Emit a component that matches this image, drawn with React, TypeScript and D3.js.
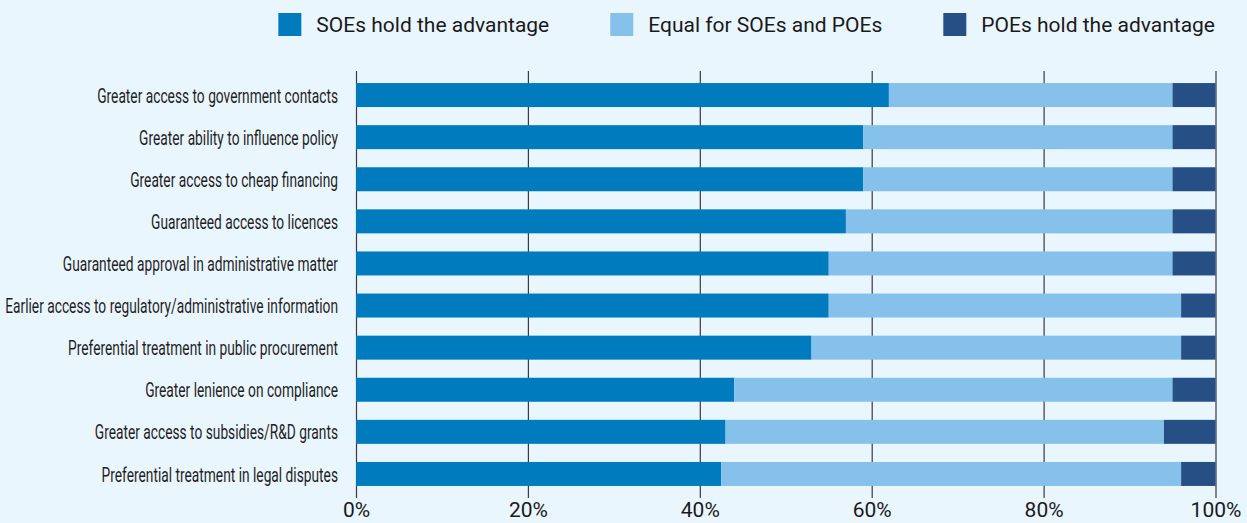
import React, { useEffect, useRef } from 'react';
import * as d3 from 'd3';

const categories = [
    'Greater access to government contacts',
    'Greater ability to influence policy',
    'Greater access to cheap financing',
    'Guaranteed access to licences',
    'Guaranteed approval in administrative matter',
    'Earlier access to regulatory/administrative information',
    'Preferential treatment in public procurement',
    'Greater lenience on compliance',
    'Greater access to subsidies/R&D grants',
    'Preferential treatment in legal disputes',
];
const soeAdvantage = [62, 59, 59, 57, 55, 55, 53, 44, 43, 42.5];
const equalForBoth = [33, 36, 36, 38, 40, 41, 43, 51, 51, 53.5];
const poeAdvantage = [5, 5, 5, 5, 5, 4, 4, 5, 6, 4];

const seriesKeys = ['soe', 'equal', 'poe'];
const seriesNames = ['SOEs hold the advantage', 'Equal for SOEs and POEs', 'POEs hold the advantage'];
const seriesColors = ['#007bbe', '#86c1eb', '#264f86'];
const xTicks = [0, 20, 40, 60, 80, 100];

const W = 1247;
const H = 523;
const margin = { top: 71, right: 31, bottom: 25, left: 356 };
const font = 'Roboto, "Noto Sans", sans-serif';
const labelSquash = 0.655;

export default function App() {
    const ref = useRef<SVGSVGElement>(null);

    useEffect(() => {
        const svg = d3.select(ref.current);
        svg.selectAll('*').remove();

        const rows = categories.map((c, i) => ({
            name: c, soe: soeAdvantage[i], equal: equalForBoth[i], poe: poeAdvantage[i],
        }));

        const x = d3.scaleLinear().domain([0, 100]).range([margin.left, W - margin.right - 0.5]);
        const y = d3.scaleBand().domain(categories).range([74, 495]).paddingInner(0.43).paddingOuter(0.215);
        const axisY = H - margin.bottom;

        // gridlines + ticks
        const axis = d3.axisBottom(x)
            .tickValues(xTicks)
            .tickSize(-(axisY - margin.top))
            .tickPadding(4)
            .tickFormat(d => d + '%');

        const gx = svg.append('g')
            .attr('transform', `translate(0, ${axisY})`)
            .call(axis);
        gx.select('.domain').remove();
        gx.selectAll('line').attr('stroke', '#3a3a3a').attr('stroke-width', 1.2);
        gx.selectAll('text')
            .attr('fill', '#1a1a1a')
            .style('font-family', font)
            .style('font-size', '21px');

        // stacked bars
        const stacked = d3.stack<any>().keys(seriesKeys)(rows);
        svg.append('g')
            .selectAll('g')
            .data(stacked)
            .enter()
            .append('g')
            .attr('fill', (_d, i) => seriesColors[i])
            .selectAll('rect')
            .data(d => d)
            .enter()
            .append('rect')
            .attr('x', d => x(d[0]))
            .attr('width', d => x(d[1]) - x(d[0]))
            .attr('y', d => y(d.data.name)!)
            .attr('height', y.bandwidth());

        // category labels (squashed to mimic the condensed face)
        svg.append('g')
            .selectAll('g')
            .data(categories)
            .enter()
            .append('g')
            .attr('transform', d => `translate(338, ${y(d)! + y.bandwidth() / 2}) scale(${labelSquash}, 1)`)
            .append('text')
            .attr('text-anchor', 'end')
            .attr('dy', '0.36em')
            .attr('fill', '#1f1f1f')
            .style('font-family', font)
            .style('font-size', '21px')
            .text(d => d);

        // legend, laid out right to left
        const legend = svg.append('g');
        let right = 1215;
        for (let i = seriesNames.length - 1; i >= 0; i--) {
            const t = legend.append('text')
                .attr('y', 32)
                .attr('fill', '#1a1a1a')
                .style('font-family', font)
                .style('font-size', '21px')
                .text(seriesNames[i]);
            const w = (t.node() as SVGTextElement).getComputedTextLength();
            t.attr('x', right - w);
            legend.append('rect')
                .attr('x', right - w - 15 - 23)
                .attr('y', 13)
                .attr('width', 23)
                .attr('height', 23)
                .attr('fill', seriesColors[i]);
            right = right - w - 15 - 23 - 61;
        }
    }, []);

    return (
        <svg ref={ref} width={W} height={H}
            style={{ position: 'absolute', left: 0, top: 0, background: '#eaf6fe' }}>
        </svg>
    );
}
